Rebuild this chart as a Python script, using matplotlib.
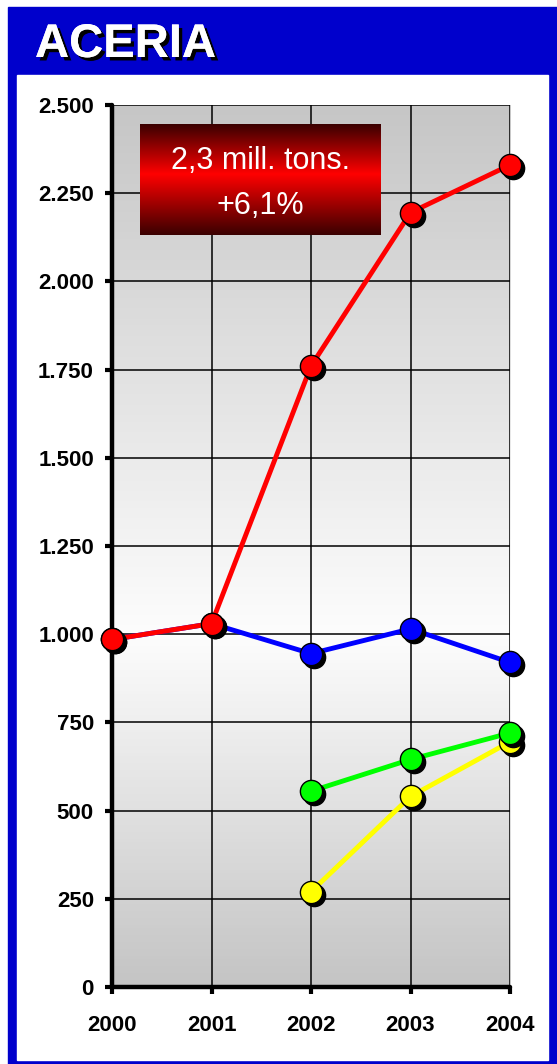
import numpy as np
import matplotlib
matplotlib.use("Agg")
import matplotlib.pyplot as plt
import matplotlib.patheffects as pe
from matplotlib.colors import LinearSegmentedColormap
from matplotlib.ticker import FuncFormatter
import matplotlib.transforms as mtransforms

plt.rcParams['font.family'] = ['Liberation Sans', 'DejaVu Sans']

# datos (miles de toneladas)
years = [2000, 2001, 2002, 2003, 2004]
rojo = [985, 1030, 1760, 2195, 2330]
azul = [985, 1030, 945, 1015, 920]
verde_years = [2002, 2003, 2004]
verde = [555, 645, 720]
amarillo_years = [2002, 2003, 2004]
amarillo = [270, 540, 695]
yticks = [0, 250, 500, 750, 1000, 1250, 1500, 1750, 2000, 2250, 2500]

W, H = 557, 1064
fig = plt.figure(figsize=(W / 100, H / 100), dpi=100)

def px_rect(x0, y0, x1, y1):
    # pixel box (top-left origin) -> figure fraction
    return [x0 / W, 1 - y1 / H, (x1 - x0) / W, (y1 - y0) / H]

# marco azul y panel blanco
fig.patches.append(plt.Rectangle((8 / W, 0), 1, 1 - 7 / H, transform=fig.transFigure,
                                 color='#0000cc', zorder=-10))
fig.patches.append(plt.Rectangle((17 / W, 4 / H), (548 - 17) / W, (1064 - 75 - 4) / H,
                                 transform=fig.transFigure, color='white', zorder=-9))

fig.text(35 / W, 1 - 45 / H, 'ACERIA', color='white', fontsize=34, fontweight='bold',
         va='center', ha='left',
         path_effects=[pe.withSimplePatchShadow(offset=(2.5, -2.5), shadow_rgbFace='black', alpha=1),
                       pe.Normal()])

ax = fig.add_axes(px_rect(112, 105, 510, 987))

# fondo degradado gris-blanco-gris
bg = LinearSegmentedColormap.from_list('bg', [(0, '#c4c4c4'), (0.40, '#fdfdfd'), (1, '#c6c6c6')])
grad = np.linspace(1, 0, 256).reshape(-1, 1)
ax.imshow(grad, cmap=bg, aspect='auto', extent=[0, 1, 0, 1], transform=ax.transAxes, zorder=0)

ax.set_xlim(2000, 2004)
ax.set_ylim(0, 2500)
ax.set_xticks(years)
ax.set_yticks(yticks)
ax.yaxis.set_major_formatter(FuncFormatter(lambda v, p: f"{int(v):,}".replace(',', '.')))
ax.grid(True, color='black', linewidth=1.1, zorder=1)
ax.set_axisbelow(False)
for s in ['top', 'right']:
    ax.spines[s].set_visible(False)
for s in ['left', 'bottom']:
    ax.spines[s].set_linewidth(3.2)
    ax.spines[s].set_capstyle('round')
    ax.spines[s].set_zorder(3)
ax.tick_params(axis='both', direction='out', length=5, width=3, color='black',
               labelsize=16)
ax.tick_params(axis='y', pad=8)
ax.tick_params(axis='x', pad=15)
for lab in ax.get_xticklabels() + ax.get_yticklabels():
    lab.set_fontweight('bold')

shadow = mtransforms.offset_copy(ax.transData, fig=fig, x=3, y=-3, units='dots')

series = [
    (amarillo_years, amarillo, '#ffff00'),
    (verde_years, verde, '#00ff00'),
    (years, azul, '#0000ff'),
    (years, rojo, '#ff0000'),
]
for i, (xs, ys, c) in enumerate(series):
    z = 4 + i * 3
    ax.plot(xs, ys, color=c, linewidth=3.5, zorder=z, clip_on=False)
    ax.plot(xs, ys, 'o', color='black', ms=16, transform=shadow, zorder=z + 1, clip_on=False)
    ax.plot(xs, ys, 'o', color=c, ms=16, mec='black', mew=1, zorder=z + 2, clip_on=False)

# recuadro con degradado rojo
bx = fig.add_axes(px_rect(140, 124, 381, 235))
rc = LinearSegmentedColormap.from_list('rc', [(0, '#3a0000'), (0.45, '#ff0000'), (1, '#3a0000')])
bx.imshow(np.linspace(0, 1, 256).reshape(-1, 1), cmap=rc, aspect='auto', extent=[0, 1, 0, 1])
bx.set_axis_off()
bx.text(0.5, 0.67, '2,3 mill. tons.', color='white', fontsize=22, ha='center', va='center',
        transform=bx.transAxes)
bx.text(0.5, 0.26, '+6,1%', color='white', fontsize=22, ha='center', va='center',
        transform=bx.transAxes)

fig.savefig('out.png', dpi=100)
